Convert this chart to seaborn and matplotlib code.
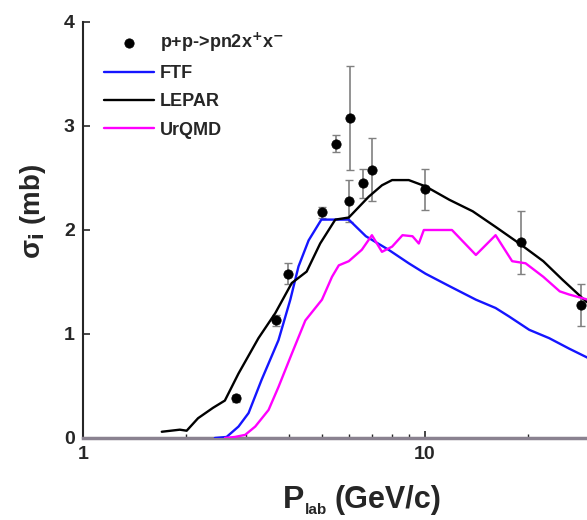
import numpy as np
import pandas as pd
import matplotlib
matplotlib.use("Agg")
import matplotlib.pyplot as plt
import seaborn as sns
from matplotlib.ticker import LogLocator, NullFormatter, FixedLocator

sns.set_style("ticks")
plt.rcParams['font.family'] = ['Liberation Sans', 'DejaVu Sans']
plt.rcParams['font.weight'] = 'bold'

# experimental data
exp_x = [2.80, 3.66, 3.97, 5.0, 5.48, 6.0, 6.03, 6.59, 6.99, 9.98, 19.1, 28.6]
exp_y = [0.38, 1.13, 1.58, 2.17, 2.83, 2.28, 3.08, 2.45, 2.58, 2.39, 1.88, 1.28]
exp_err = [0.03, 0.05, 0.10, 0.05, 0.08, 0.20, 0.50, 0.14, 0.30, 0.20, 0.30, 0.20]

# FTF
ftf_x = [2.43, 2.63, 2.85, 3.05, 3.33, 3.73, 4.04, 4.27, 4.57, 4.98, 5.99, 6.72, 7.83,
         8.97, 10.04, 11.8, 14.1, 16.1, 17.6, 20.2, 23.1, 26.4, 30.0]
ftf_y = [0.0, 0.01, 0.11, 0.24, 0.56, 0.94, 1.33, 1.65, 1.90, 2.10, 2.10, 1.94, 1.81,
         1.68, 1.58, 1.46, 1.33, 1.25, 1.17, 1.04, 0.96, 0.86, 0.77]

# LEPAR
lepar_x = [1.70, 1.92, 2.01, 2.17, 2.40, 2.60, 2.85, 3.26, 3.65, 4.08, 4.51, 4.94, 5.47,
           5.99, 6.85, 7.49, 8.02, 8.97, 10.04, 11.8, 13.8, 16.1, 18.9, 22.2, 25.3, 29.0, 30.0]
lepar_y = [0.06, 0.08, 0.07, 0.19, 0.29, 0.36, 0.62, 0.96, 1.20, 1.49, 1.60, 1.87, 2.10,
           2.12, 2.32, 2.43, 2.48, 2.48, 2.42, 2.29, 2.18, 2.03, 1.87, 1.70, 1.52, 1.34, 1.30]

# UrQMD
urqmd_x = [2.60, 2.78, 2.98, 3.19, 3.49, 3.73, 4.08, 4.47, 5.0, 5.35, 5.6, 5.99, 6.54,
           7.0, 7.49, 8.02, 8.6, 9.2, 9.6, 9.93, 12.0, 14.1, 16.1, 18.0, 19.7, 22.2,
           24.8, 26.4, 30.0]
urqmd_y = [0.0, 0.01, 0.03, 0.11, 0.27, 0.49, 0.81, 1.13, 1.33, 1.55, 1.66, 1.70, 1.81,
           1.95, 1.79, 1.84, 1.95, 1.94, 1.87, 2.0, 2.0, 1.76, 1.95, 1.70, 1.68, 1.55,
           1.41, 1.38, 1.33]

W, H = 587, 520
fig = plt.figure(figsize=(W / 100, H / 100), dpi=100)
ax = fig.add_axes([0.1414, 0.1577, 0.8586, 0.8])

ax.errorbar(exp_x, exp_y, yerr=exp_err, fmt='none', ecolor='#808080',
            elinewidth=1.2, capsize=3, capthick=1.0, zorder=3)

sns.lineplot(x=ftf_x, y=ftf_y, ax=ax, color='#1515ff', lw=1.7, label='FTF',
             sort=False, estimator=None, zorder=4)
sns.lineplot(x=lepar_x, y=lepar_y, ax=ax, color='black', lw=1.7, label='LEPAR',
             sort=False, estimator=None, zorder=4)
sns.lineplot(x=urqmd_x, y=urqmd_y, ax=ax, color='#ff00ff', lw=1.7, label='UrQMD',
             sort=False, estimator=None, zorder=4)
sns.scatterplot(x=exp_x, y=exp_y, ax=ax, color='black', s=45, edgecolor='black',
                label='p+p->pn2x$^{+}$x$^{-}$', zorder=5)

ax.set_xscale('log')
ax.set_xlim(1, 29.8)
ax.set_ylim(0, 4)
ax.xaxis.set_major_locator(FixedLocator([1, 10]))
ax.set_xticklabels(['1', '10'])
ax.xaxis.set_minor_locator(LogLocator(base=10, subs=np.arange(2, 10)))
ax.xaxis.set_minor_formatter(NullFormatter())
ax.set_yticks([0, 1, 2, 3, 4])
ax.set_yticklabels(['0', '1', '2', '3', '4'])
ax.tick_params(axis='both', which='major', direction='in', length=5, width=1.2,
               labelsize=14, pad=6)
ax.tick_params(axis='x', which='minor', direction='in', length=3, width=1.0)
for lab in ax.get_xticklabels() + ax.get_yticklabels():
    lab.set_fontweight('bold')

for s in ['top', 'right']:
    ax.spines[s].set_visible(False)
ax.spines['left'].set_linewidth(1.5)
ax.spines['bottom'].set_linewidth(2.5)
ax.spines['bottom'].set_color('#8a8290')

# x label built from pieces (small, offset subscript as in the reference)
fig.text(283 / W, 1 - 508 / H, 'P', fontsize=23, fontweight='bold', ha='left', va='baseline')
fig.text(305 / W, 1 - 514 / H, 'lab', fontsize=11, fontweight='bold', ha='left', va='baseline')
fig.text(335 / W, 1 - 508 / H, '(GeV/c)', fontsize=22, fontweight='bold', ha='left', va='baseline')

ax.set_ylabel('σ$_{\\mathbf{i}}$ (mb)', fontsize=20, fontweight='bold', labelpad=4)
ax.yaxis.set_label_coords(-0.07, 0.545)

handles, labels = ax.get_legend_handles_labels()
order = [3, 0, 1, 2]
leg = ax.legend([handles[i] for i in order], [labels[i] for i in order],
                loc='upper left', bbox_to_anchor=(0.02, 1.006), frameon=False,
                prop={'size': 13, 'weight': 'bold'}, handlelength=2.8,
                handletextpad=0.3, labelspacing=0.63, borderaxespad=0.2)

fig.savefig('out.png', dpi=100)
